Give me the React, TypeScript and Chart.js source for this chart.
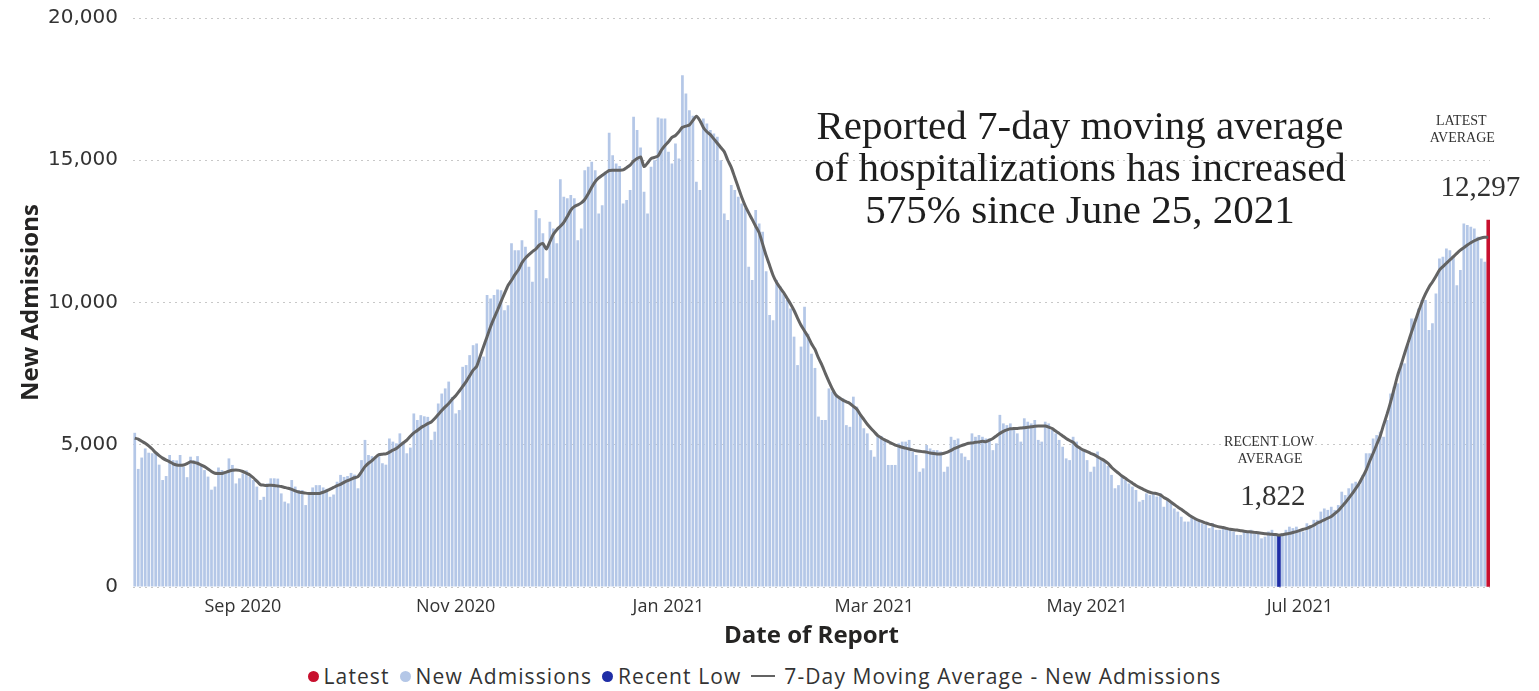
import React, { useEffect, useRef } from "react";
import { Chart, registerables } from "chart.js";

Chart.register(...registerables);

// ---------------- data ----------------
// Daily new admissions, one small array per month (Aug 1, 2020 – Aug 24, 2021)
const admAug2020 = [5420, 4150, 4550, 4870, 4720, 4700, 4750, 4300, 3760, 3900, 4640, 4460, 4450, 4640, 4230, 3860, 4580, 4460, 4600, 4300, 4110, 3880, 3420, 3530, 4200, 4110, 4000, 4520, 4290, 3640, 3820];
const admSep2020 = [3990, 4100, 3880, 3760, 3530, 3060, 3170, 3640, 3820, 3820, 3810, 3290, 3000, 2940, 3760, 3530, 3410, 3410, 2880, 3300, 3500, 3580, 3580, 3500, 3450, 3170, 3250, 3700, 3940, 3870];
const admOct2020 = [3900, 4010, 3950, 3470, 4460, 5170, 4640, 4600, 4580, 4600, 4350, 4300, 5220, 5110, 5050, 5400, 5050, 4700, 4900, 6100, 5870, 6040, 6000, 5980, 5170, 5460, 6450, 6800, 6980, 7220, 6680];
const admNov2020 = [6100, 6220, 7740, 7800, 8150, 8500, 8560, 8000, 8100, 10260, 10140, 10260, 10460, 10430, 9730, 9900, 12080, 11840, 11840, 12190, 11960, 11260, 10730, 13250, 12960, 12430, 10850, 12840, 12600, 12080];
const admDec2020 = [14330, 13720, 13660, 13780, 13660, 12190, 12600, 14650, 14770, 14950, 14650, 13130, 13420, 14600, 15970, 15180, 14890, 14800, 13480, 13600, 13950, 16530, 16060, 15450, 13890, 13130, 14770, 15000, 16500, 16470, 16470];
const admJan2021 = [15300, 14890, 15590, 15060, 17990, 17350, 16760, 16560, 14240, 13950, 16470, 16290, 16060, 15940, 15830, 15000, 13130, 12900, 14130, 13950, 13720, 13480, 13310, 11260, 10790, 13250, 12780, 12490, 11100, 9560, 9380];
const admFeb2021 = [10790, 10560, 10320, 10090, 9790, 8800, 7800, 8450, 9850, 8900, 8200, 7700, 5990, 5870, 5870, 6980, 6870, 6750, 6630, 6630, 5690, 5630, 6690, 6340, 6050, 5580, 5400, 4810];
const admMar2021 = [4580, 5340, 5310, 5170, 4290, 4290, 4290, 5050, 5110, 5110, 5170, 4760, 4640, 4050, 4170, 4990, 4870, 4810, 4810, 4760, 4050, 4230, 5280, 5170, 5220, 4700, 4580, 4460, 5400, 5280, 5340];
const admApr2021 = [5280, 5220, 5220, 4810, 5050, 6050, 5750, 5690, 5750, 5520, 5400, 5110, 5930, 5810, 5750, 5870, 5170, 5110, 5810, 5750, 5520, 5400, 5170, 4930, 4520, 4460, 5280, 5110, 4870, 4810];
const admMay2021 = [4460, 4050, 4230, 4760, 4460, 4400, 4260, 3940, 3470, 3580, 3940, 3760, 3640, 3530, 3410, 3000, 3060, 3290, 3230, 3290, 3180, 3290, 2820, 3030, 2940, 2760, 2650, 2470, 2300, 2300, 2470];
const admJun2021 = [2360, 2300, 2240, 2180, 2070, 2240, 2010, 2010, 2120, 2070, 2010, 1950, 1830, 1830, 1950, 1950, 2010, 1890, 1950, 1710, 1770, 1950, 2010, 1890, 1830, 1890, 2010, 2120, 2070, 2120];
const admJul2021 = [2010, 1950, 2240, 2180, 2360, 2360, 2650, 2760, 2710, 2820, 2710, 2880, 3350, 3230, 3470, 3640, 3700, 3580, 3940, 4700, 4700, 5220, 5340, 5460, 5280, 5870, 6800, 7040, 7160, 7860, 7860];
const admAug2021 = [8560, 9440, 9440, 9790, 10090, 10090, 9030, 9270, 10320, 11550, 11610, 11900, 11840, 11610, 10610, 11140, 12780, 12720, 12660, 12600, 12310, 11550, 11430, 11400];

// 7-day moving average, one small array per month
const avgAug2020 = [5230, 5200, 5120, 5050, 4960, 4850, 4720, 4620, 4530, 4460, 4400, 4330, 4290, 4280, 4290, 4340, 4400, 4380, 4350, 4290, 4230, 4150, 4060, 4000, 3990, 3990, 4030, 4070, 4100, 4110, 4100];
const avgSep2020 = [4060, 4000, 3940, 3840, 3720, 3600, 3580, 3570, 3580, 3570, 3550, 3530, 3500, 3470, 3430, 3380, 3340, 3320, 3300, 3290, 3290, 3290, 3290, 3330, 3380, 3440, 3500, 3560, 3610, 3680];
const avgOct2020 = [3740, 3790, 3840, 3880, 4050, 4230, 4350, 4440, 4560, 4650, 4670, 4680, 4740, 4810, 4870, 4970, 5070, 5165, 5300, 5420, 5500, 5600, 5670, 5740, 5800, 5920, 6060, 6200, 6330, 6450, 6600];
const avgNov2020 = [6720, 6880, 7050, 7220, 7420, 7620, 7750, 8100, 8450, 8800, 9150, 9450, 9730, 10030, 10320, 10600, 10780, 10980, 11150, 11400, 11560, 11680, 11790, 11880, 12020, 12070, 11880, 12140, 12400, 12560];
const avgDec2020 = [12680, 12820, 13020, 13250, 13370, 13430, 13500, 13620, 13820, 14050, 14250, 14380, 14470, 14560, 14640, 14650, 14650, 14650, 14660, 14740, 14830, 14970, 15060, 15120, 14780, 14900, 15060, 15100, 15150, 15360, 15520];
const avgJan2021 = [15650, 15800, 15870, 16000, 16160, 16200, 16240, 16400, 16550, 16400, 16150, 16000, 15900, 15750, 15600, 15450, 15300, 15000, 14750, 14400, 14050, 13700, 13400, 13150, 12920, 12680, 12450, 12050, 11650, 11300, 10950];
const avgFeb2021 = [10700, 10520, 10350, 10150, 9950, 9720, 9450, 9200, 9000, 8800, 8550, 8350, 8050, 7800, 7500, 7220, 6960, 6750, 6650, 6570, 6510, 6450, 6350, 6250, 6060, 5890, 5720, 5580];
const avgMar2021 = [5450, 5320, 5240, 5170, 5110, 5050, 4990, 4950, 4910, 4880, 4850, 4820, 4790, 4770, 4755, 4740, 4710, 4690, 4675, 4675, 4700, 4740, 4800, 4870, 4920, 4970, 5010, 5050, 5065, 5085, 5100];
const avgApr2021 = [5120, 5110, 5160, 5220, 5310, 5400, 5470, 5520, 5560, 5575, 5575, 5585, 5600, 5615, 5633, 5650, 5660, 5660, 5660, 5620, 5570, 5480, 5400, 5310, 5220, 5150, 5090, 4960, 4880, 4810];
const avgMay2021 = [4760, 4700, 4650, 4580, 4510, 4440, 4350, 4210, 4100, 4000, 3900, 3820, 3730, 3650, 3570, 3500, 3440, 3380, 3330, 3300, 3280, 3240, 3150, 3080, 2990, 2900, 2810, 2730, 2640, 2550, 2470];
const avgJun2021 = [2400, 2340, 2300, 2250, 2210, 2180, 2140, 2110, 2090, 2060, 2030, 2010, 2000, 1980, 1960, 1945, 1935, 1920, 1905, 1890, 1875, 1860, 1850, 1845, 1822, 1840, 1860, 1885, 1915, 1945];
const avgJul2021 = [1990, 2030, 2060, 2110, 2170, 2250, 2300, 2360, 2420, 2480, 2580, 2680, 2820, 2960, 3120, 3280, 3460, 3640, 3870, 4110, 4420, 4700, 5000, 5300, 5700, 6080, 6500, 6960, 7430, 7800, 8200];
const avgAug2021 = [8580, 8960, 9320, 9680, 10020, 10300, 10540, 10720, 10920, 11140, 11260, 11380, 11500, 11610, 11730, 11840, 11930, 12020, 12100, 12170, 12230, 12270, 12290, 12297];

const NEW_ADMISSIONS = [
  ...admAug2020, ...admSep2020, ...admOct2020, ...admNov2020, ...admDec2020, ...admJan2021,
  ...admFeb2021, ...admMar2021, ...admApr2021, ...admMay2021, ...admJun2021, ...admJul2021, ...admAug2021,
];
const MOVING_AVG = [
  ...avgAug2020, ...avgSep2020, ...avgOct2020, ...avgNov2020, ...avgDec2020, ...avgJan2021,
  ...avgFeb2021, ...avgMar2021, ...avgApr2021, ...avgMay2021, ...avgJun2021, ...avgJul2021, ...avgAug2021,
];

// Category labels: one per report date, starting Aug 1, 2020
const DATES: string[] = NEW_ADMISSIONS.map((_, i) =>
  new Date(Date.UTC(2020, 7, 1 + i)).toISOString().slice(0, 10)
);

const TICK_DATES = ["2020-09-01", "2020-11-01", "2021-01-01", "2021-03-01", "2021-05-01", "2021-07-01"];
const TICK_TEXT = ["Sep 2020", "Nov 2020", "Jan 2021", "Mar 2021", "May 2021", "Jul 2021"];
const Y_MIN = 0;
const Y_MAX = 20000;
const Y_STEP = 5000;

const RECENT_LOW_DATE = "2021-06-25";
const RECENT_LOW_VALUE = 1822;
const LATEST_DATE = DATES[DATES.length - 1];
const LATEST_MARK_VALUE = 12900; // height of the red "Latest" marker
const LATEST_AVERAGE = 12297;

const HEADLINE = ["Reported 7-day moving average", "of hospitalizations has increased"];

const LATEST_DATA = DATES.map((d) => (d === LATEST_DATE ? LATEST_MARK_VALUE : null));
const LOW_DATA = DATES.map((d) => (d === RECENT_LOW_DATE ? RECENT_LOW_VALUE : null));

const COLORS = {
  bars: "#b4c7e7",
  line: "#636363",
  latest: "#c8102e",
  low: "#1f2ea6",
  text: "#252423",
};

const SANS = "'Open Sans', 'Noto Sans', sans-serif";
const WIDE_SANS = "'DejaVu Sans', 'Open Sans', sans-serif";
const SERIF = "'Liberation Serif', 'DejaVu Serif', serif";

const annotationPlugin = {
  id: "textAnnotations",
  afterDraw(chart: any) {
    const { ctx, chartArea } = chart;
    const xs = chart.scales.x;
    const ys = chart.scales.y;
    const pct = Math.round((LATEST_AVERAGE / RECENT_LOW_VALUE - 1) * 100);
    ctx.save();
    ctx.textAlign = "center";
    ctx.textBaseline = "middle";
    ctx.fillStyle = "#1e1e1e";
    ctx.font = `41px ${SERIF}`;
    const hx = chartArea.left + 947;
    const lines = [HEADLINE[0], HEADLINE[1], `${pct}% since June 25, 2021`];
    lines.forEach((t, i) => ctx.fillText(t, hx, chartArea.top + 110 + i * 42));

    ctx.fillStyle = "#333333";
    const xl = xs.getPixelForValue(DATES.indexOf(LATEST_DATE));
    const yl = ys.getPixelForValue(LATEST_MARK_VALUE);
    ctx.font = `14px ${SERIF}`;
    ctx.fillText("LATEST", xl - 27, yl - 99);
    ctx.fillText("AVERAGE", xl - 26, yl - 82);
    ctx.font = `29px ${SERIF}`;
    ctx.fillText(LATEST_AVERAGE.toLocaleString("en-US"), xl - 8, yl - 32);

    const xr = xs.getPixelForValue(DATES.indexOf(RECENT_LOW_DATE));
    const yr = ys.getPixelForValue(RECENT_LOW_VALUE);
    ctx.font = `14px ${SERIF}`;
    ctx.fillText("RECENT LOW", xr - 10, yr - 93);
    ctx.fillText("AVERAGE", xr - 9, yr - 76);
    ctx.font = `29px ${SERIF}`;
    ctx.fillText(RECENT_LOW_VALUE.toLocaleString("en-US"), xr - 6, yr - 38);
    ctx.restore();
  },
};

const LEGEND = [
  { label: "Latest", color: COLORS.latest, kind: "dot" },
  { label: "New Admissions", color: COLORS.bars, kind: "dot" },
  { label: "Recent Low", color: COLORS.low, kind: "dot" },
  { label: "7-Day Moving Average - New Admissions", color: COLORS.line, kind: "line" },
];

export default function App() {
  const canvasRef = useRef<HTMLCanvasElement | null>(null);

  useEffect(() => {
    if (!canvasRef.current) return;
    const chart = new Chart(canvasRef.current, {
      type: "bar",
      data: {
        labels: DATES,
        datasets: [
          {
            type: "line",
            label: "7-Day Moving Average - New Admissions",
            data: MOVING_AVG,
            borderColor: COLORS.line,
            borderWidth: 3,
            pointRadius: 0,
            tension: 0.2,
            order: 0,
          } as any,
          {
            type: "bar",
            label: "Latest",
            data: LATEST_DATA,
            backgroundColor: COLORS.latest,
            barThickness: 3,
            grouped: false,
            order: 1,
          },
          {
            type: "bar",
            label: "Recent Low",
            data: LOW_DATA,
            backgroundColor: COLORS.low,
            barThickness: 3,
            grouped: false,
            order: 2,
          },
          {
            type: "bar",
            label: "New Admissions",
            data: NEW_ADMISSIONS,
            backgroundColor: COLORS.bars,
            categoryPercentage: 1,
            barPercentage: 0.78,
            grouped: false,
            order: 3,
          },
        ],
      },
      options: {
        animation: false,
        responsive: false,
        layout: { padding: { left: 0, right: 49, top: 18, bottom: 0 } },
        plugins: { legend: { display: false }, tooltip: { enabled: false } },
        scales: {
          x: {
            offset: true,
            grid: { display: false, drawTicks: false },
            border: { display: false },
            ticks: {
              autoSkip: false,
              maxRotation: 0,
              minRotation: 0,
              padding: 9,
              color: "#333333",
              font: { family: SANS, size: 18 },
              callback: (v: any) => {
                const k = TICK_DATES.indexOf(DATES[Number(v)]);
                return k >= 0 ? TICK_TEXT[k] : "";
              },
            },
            afterBuildTicks: (scale: any) => {
              scale.ticks = scale.ticks.filter((t: any) => TICK_DATES.includes(DATES[t.value]));
            },
            title: {
              display: true,
              text: "Date of Report",
              color: COLORS.text,
              font: { family: SANS, size: 24, weight: "bold" },
              padding: { top: 0, bottom: 4 },
            },
            afterFit: (s: any) => {
              s.height = 68;
              s.paddingLeft = 0;
              s.paddingRight = 0;
            },
          },
          y: {
            min: Y_MIN,
            max: Y_MAX,
            ticks: {
              stepSize: Y_STEP,
              padding: 15,
              color: "#333333",
              font: { family: WIDE_SANS, size: 20 },
              callback: (v: any) => Number(v).toLocaleString("en-US"),
            },
            grid: { color: "#c8c8c8", lineWidth: 1, drawTicks: false },
            border: { display: false, dash: [2, 4] },
            title: {
              display: true,
              text: "New Admissions",
              color: COLORS.text,
              font: { family: SANS, size: 24, weight: "bold" },
              padding: { top: 17, bottom: 0 },
            },
            afterFit: (s: any) => {
              s.width = 133;
              s.paddingTop = 0;
              s.paddingBottom = 0;
            },
          },
        },
      },
      plugins: [annotationPlugin],
    });
    return () => chart.destroy();
  }, []);

  return (
    <div style={{ position: "fixed", left: 0, top: 0, width: 1539, height: 691, background: "#fff", overflow: "hidden" }}>
      <canvas ref={canvasRef} width={1539} height={655} style={{ position: "absolute", left: 0, top: 0, width: 1539, height: 655 }} />
      <div
        style={{
          position: "absolute",
          left: 0,
          top: 661,
          width: 1539,
          height: 30,
          display: "flex",
          justifyContent: "center",
          alignItems: "center",
          fontFamily: SANS,
          fontSize: 21,
          letterSpacing: "1.1px",
          color: "#333333",
          whiteSpace: "nowrap",
        }}
      >
        {LEGEND.map((item) => (
          <span key={item.label} style={{ display: "inline-flex", alignItems: "center", marginRight: 10 }}>
            {item.kind === "dot" ? (
              <span style={{ display: "inline-block", width: 11, height: 11, borderRadius: "50%", background: item.color, marginRight: 5 }} />
            ) : (
              <span style={{ display: "inline-block", width: 24, height: 2, background: item.color, marginRight: 9 }} />
            )}
            {item.label}
          </span>
        ))}
      </div>
    </div>
  );
}
